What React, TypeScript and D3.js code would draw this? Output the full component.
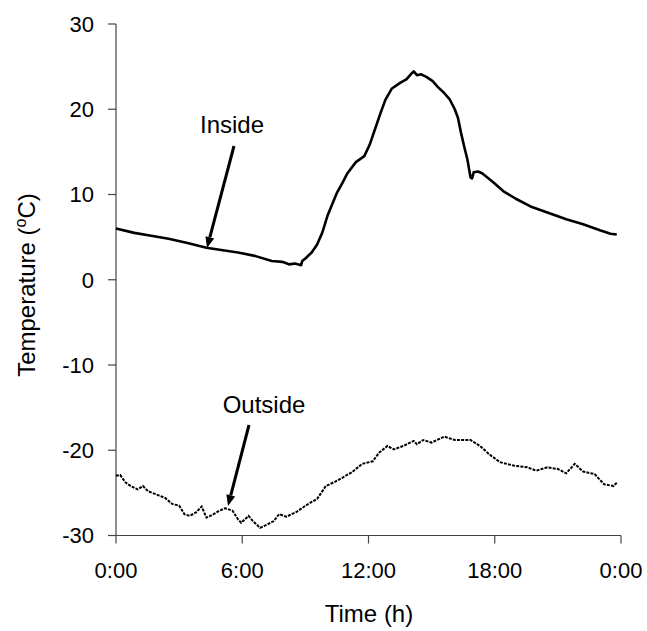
import React from "react";
import * as d3 from "d3";

const insideHours = [0, 0.87, 1.6, 2.5, 3.4, 4.3, 5.0, 5.8, 6.6, 7.4, 7.9, 8.25, 8.5, 8.8, 8.85, 9.0, 9.3, 9.55, 9.8, 10.05, 10.3, 10.5, 10.75, 11.0, 11.4, 11.8, 12.05, 12.3, 12.55, 12.8, 13.1, 13.5, 13.8, 14.05, 14.15, 14.3, 14.5, 14.75, 15.05, 15.3, 15.6, 15.85, 16.1, 16.25, 16.4, 16.55, 16.7, 16.85, 16.92, 17.0, 17.2, 17.4, 17.9, 18.4, 19.0, 19.7, 20.5, 21.4, 22.2, 23.0, 23.5, 23.8];
const insideTemp = [6.0, 5.5, 5.2, 4.8, 4.3, 3.75, 3.5, 3.2, 2.8, 2.2, 2.1, 1.8, 1.9, 1.7, 2.2, 2.5, 3.2, 4.1, 5.5, 7.5, 9.0, 10.2, 11.3, 12.5, 13.8, 14.5, 15.8, 17.6, 19.4, 21.1, 22.4, 23.1, 23.5, 24.2, 24.45, 24.0, 24.1, 23.8, 23.3, 22.6, 21.9, 21.2, 20.0, 19.0, 17.2, 15.6, 14.1, 12.0, 11.9, 12.6, 12.7, 12.5, 11.5, 10.4, 9.5, 8.6, 7.9, 7.1, 6.5, 5.8, 5.4, 5.3];

const outsideHours = [0, 0.2, 0.46, 0.7, 1.03, 1.28, 1.52, 1.93, 2.34, 2.67, 3.0, 3.25, 3.5, 3.8, 4.07, 4.3, 4.64, 4.9, 5.2, 5.54, 5.8, 5.95, 6.3, 6.5, 6.85, 7.2, 7.5, 7.75, 8.1, 8.6, 9.07, 9.56, 9.97, 10.4, 10.7, 11.2, 11.7, 12.2, 12.5, 12.9, 13.2, 13.65, 14.15, 14.3, 14.6, 15.0, 15.6, 16.1, 16.85, 17.3, 17.75, 18.25, 18.9, 19.55, 19.97, 20.5, 21.0, 21.4, 21.8, 22.2, 22.75, 23.2, 23.65, 23.8];
const outsideTemp = [-23.0, -22.9, -23.8, -24.2, -24.6, -24.2, -24.8, -25.2, -25.6, -26.3, -26.5, -27.5, -27.7, -27.3, -26.6, -27.9, -27.5, -27.1, -26.8, -27.1, -28.1, -28.5, -27.7, -28.3, -29.1, -28.7, -28.3, -27.5, -27.8, -27.2, -26.4, -25.7, -24.2, -23.7, -23.3, -22.6, -21.6, -21.3, -20.3, -19.5, -19.9, -19.5, -18.9, -19.3, -18.8, -19.1, -18.4, -18.8, -18.8, -19.5, -20.5, -21.4, -21.8, -22.0, -22.4, -22.0, -22.2, -22.7, -21.6, -22.5, -22.8, -24.0, -24.2, -23.8];

const xTickValues = [0, 6, 12, 18, 24];
const xTickLabels = ["0:00", "6:00", "12:00", "18:00", "0:00"];
const yTickValues = [-30, -20, -10, 0, 10, 20, 30];

export default function App() {
  const W = 647, H = 631;
  const x = d3.scaleLinear().domain([0, 24]).range([116, 621]);
  const y = d3.scaleLinear().domain([-30, 30]).range([535.5, 24]);
  const font = "'Liberation Sans', Arial, Helvetica, sans-serif";

  const insideLine = d3.line<number>()
    .x((_, i) => x(insideHours[i]))
    .y((d) => y(d));
  const outsideLine = d3.line<number>()
    .x((_, i) => x(outsideHours[i]))
    .y((d) => y(d));

  const axisColor = "#444";

  const arrow = (x1: number, y1: number, x2: number, y2: number) => {
    const ang = Math.atan2(y2 - y1, x2 - x1);
    const len = 11, half = 4.5;
    const bx = x2 - len * Math.cos(ang), by = y2 - len * Math.sin(ang);
    const px = -Math.sin(ang) * half, py = Math.cos(ang) * half;
    return (
      <g>
        <line x1={x1} y1={y1} x2={bx} y2={by} stroke="#000" strokeWidth={3} />
        <polygon points={`${x2},${y2} ${bx + px},${by + py} ${bx - px},${by - py}`} fill="#000" />
      </g>
    );
  };

  return (
    <svg width={W} height={H} style={{ position: "absolute", left: 0, top: 0, background: "#fff" }} fontFamily={font}>
      <rect width={W} height={H} fill="#fff" />
      {/* axes */}
      <line x1={116} y1={y(30)} x2={116} y2={y(-30)} stroke={axisColor} strokeWidth={1.2} />
      <line x1={116} y1={y(-30)} x2={621} y2={y(-30)} stroke={axisColor} strokeWidth={1.2} />
      {yTickValues.map((v) => (
        <g key={"y" + v}>
          <line x1={108} x2={116} y1={y(v)} y2={y(v)} stroke={axisColor} strokeWidth={1.2} />
          <text x={94} y={y(v)} dy="0.36em" textAnchor="end" fontSize={22} fill="#000">{v}</text>
        </g>
      ))}
      {xTickValues.map((v, i) => (
        <g key={"x" + i}>
          <line x1={x(v)} x2={x(v)} y1={y(-30)} y2={y(-30) + 8} stroke={axisColor} strokeWidth={1.2} />
          <text x={x(v)} y={578} textAnchor="middle" fontSize={22} fill="#000">{xTickLabels[i]}</text>
        </g>
      ))}
      {/* titles */}
      <text x={369} y={622} textAnchor="middle" fontSize={24} fill="#000">Time (h)</text>
      <text transform="translate(35,285) rotate(-90)" textAnchor="middle" fontSize={24} fill="#000">
        Temperature (<tspan fontSize={16} dy={-9}>o</tspan><tspan dy={9}>C)</tspan>
      </text>
      {/* data */}
      <path d={insideLine(insideTemp) || ""} fill="none" stroke="#000" strokeWidth={2.6} strokeLinejoin="round" />
      <path d={outsideLine(outsideTemp) || ""} fill="none" stroke="#000" strokeWidth={2} strokeDasharray="3 1.2" />
      {/* annotations */}
      <text x={232} y={133} textAnchor="middle" fontSize={24} fill="#000">Inside</text>
      {arrow(234, 146, 207, 248)}
      <text x={264} y={413} textAnchor="middle" fontSize={24} fill="#000">Outside</text>
      {arrow(249, 425, 228, 506)}
    </svg>
  );
}
